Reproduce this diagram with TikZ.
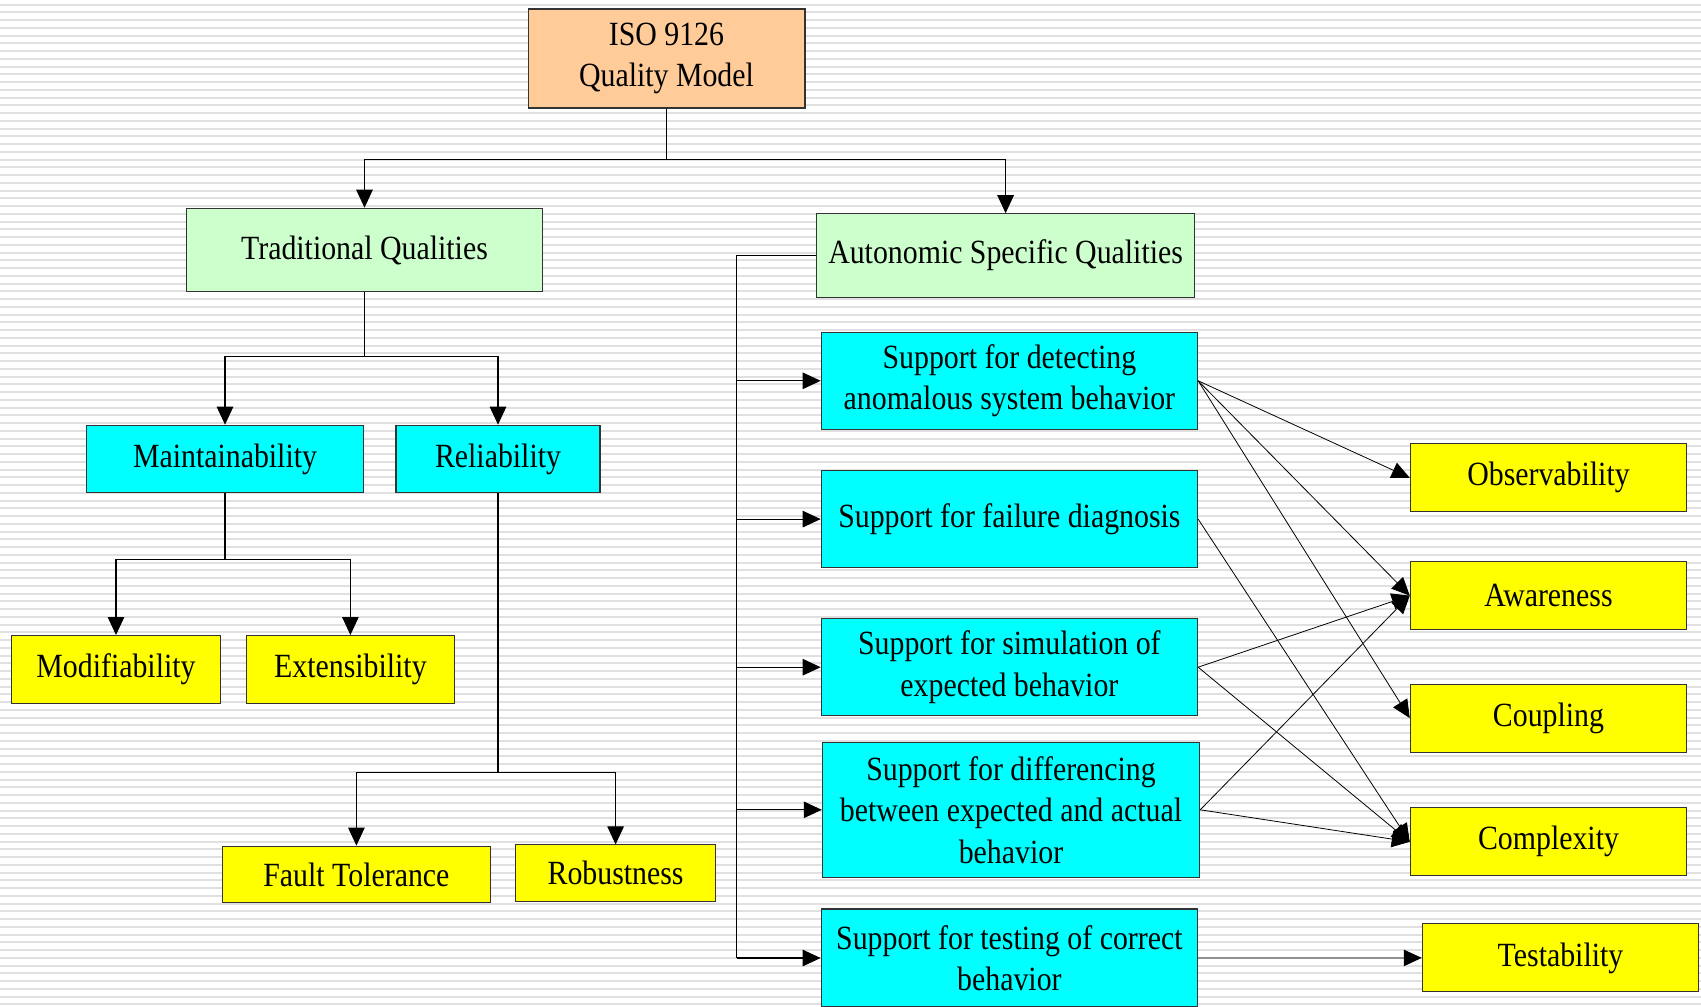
\documentclass[tikz,border=0pt]{standalone}
\usepackage{fontspec}
\setmainfont[FakeStretch=0.88]{Liberation Serif}
\usepackage{xcolor}
\usepackage{tikz}
\usetikzlibrary{arrows.meta}

\definecolor{peach}{HTML}{FFCC99}
\definecolor{mint}{HTML}{CCFFCC}
\definecolor{aqua}{HTML}{00FFFF}
\definecolor{lemon}{HTML}{FFFF00}

\begin{document}
\begin{tikzpicture}[
  x=0.02cm, y=-0.02cm,
  box/.style={rectangle, draw=black!80, line width=0.6pt, inner sep=0pt, align=center, font=\fontsize{19.3}{23.6}\selectfont},
  link/.style={draw, line width=0.6pt},
  arr/.style={link, -{Triangle[length=0.36cm, width=0.33cm]}},
  cross/.style={arr, line width=0.45pt},
  stripe/.style={fill=black!12}
]

\useasboundingbox (0,0) rectangle (1701,1007);
\foreach \i in {0,...,129}
  \fill[stripe] (0,{\i*7.75+3.7}) rectangle (1701,{\i*7.75+5.7});

\node[box, fill=peach, minimum width=5.54cm, minimum height=1.98cm] (iso) at (666.5,58.5) {ISO 9126\\Quality Model};

\node[box, fill=mint, minimum width=7.12cm, minimum height=1.67cm] (trad) at (364.5,250) {Traditional Qualities};
\node[box, fill=mint, minimum width=7.55cm, minimum height=1.67cm] (auto) at (1005.6,255.5) {Autonomic Specific Qualities};

\node[box, fill=aqua, minimum width=5.53cm, minimum height=1.35cm] (maint) at (225,459) {Maintainability};
\node[box, fill=aqua, minimum width=4.08cm, minimum height=1.35cm] (relia) at (498,459) {Reliability};
\node[box, fill=lemon, minimum width=4.17cm, minimum height=1.35cm] (modif) at (116,669.3) {Modifiability};
\node[box, fill=lemon, minimum width=4.17cm, minimum height=1.35cm] (extens) at (350.4,669.3) {Extensibility};
\node[box, fill=lemon, minimum width=5.36cm, minimum height=1.13cm] (fault) at (356.4,874.4) {Fault Tolerance};
\node[box, fill=lemon, minimum width=4.01cm, minimum height=1.13cm] (robust) at (615.6,873.2) {Robustness};

\node[box, fill=aqua, minimum width=7.53cm, minimum height=1.95cm] (detect) at (1009.4,380.8) {Support for detecting\\anomalous system behavior};
\node[box, fill=aqua, minimum width=7.53cm, minimum height=1.93cm] (failure) at (1009.4,519.1) {Support for failure diagnosis};
\node[box, fill=aqua, minimum width=7.53cm, minimum height=1.95cm] (simul) at (1009.4,667.2) {Support for simulation of\\expected behavior};
\node[box, fill=aqua, minimum width=7.55cm, minimum height=2.71cm] (differ) at (1011,809.8) {Support for differencing\\between expected and actual\\behavior};
\node[box, fill=aqua, minimum width=7.53cm, minimum height=1.96cm] (testing) at (1009.4,958) {Support for testing of correct\\behavior};

\node[box, fill=lemon, minimum width=5.53cm, minimum height=1.36cm] (observ) at (1548.5,477.8) {Observability};
\node[box, fill=lemon, minimum width=5.53cm, minimum height=1.36cm] (aware) at (1548.5,595.6) {Awareness};
\node[box, fill=lemon, minimum width=5.53cm, minimum height=1.36cm] (coupl) at (1548.5,718.1) {Coupling};
\node[box, fill=lemon, minimum width=5.53cm, minimum height=1.36cm] (complex) at (1548.5,841.8) {Complexity};
\node[box, fill=lemon, minimum width=5.53cm, minimum height=1.36cm] (testab) at (1560.5,957.9) {Testability};

% tree on the left
\draw[arr] (iso.south) -- ++(0,51) -| (trad.north);
\draw[arr] (iso.south) -- ++(0,51) -| (auto.north);
\draw[arr] (trad.south) -- ++(0,64) -| (maint.north);
\draw[arr] (trad.south) -- ++(0,64) -| (relia.north);
\draw[arr] (maint.south) -- ++(0,66) -| (modif.north);
\draw[arr] (maint.south) -- ++(0,66) -| (extens.north);
\draw[arr] (relia.south) -- ++(0,279) -| (fault.north);
\draw[arr] (relia.south) -- ++(0,279) -| (robust.north);

% trunk of the autonomic qualities
\coordinate (trunk) at (736.6,255.5);
\draw[link] (auto.west) -- (trunk) -- (trunk |- testing.west);
\foreach \n in {detect,failure,simul,differ,testing}
  \draw[arr] (trunk |- \n.west) -- (\n.west);

\draw[cross] (detect.east) -- (observ.west);
\draw[cross] (detect.east) -- (aware.west);
\draw[cross] (detect.east) -- (coupl.west);
\draw[cross] (failure.east) -- (complex.west);
\draw[cross] (simul.east) -- (aware.west);
\draw[cross] (simul.east) -- (complex.west);
\draw[cross] (differ.east) -- (aware.west);
\draw[cross] (differ.east) -- (complex.west);
\draw[cross] (testing.east) -- (testab.west);

\end{tikzpicture}
\end{document}
